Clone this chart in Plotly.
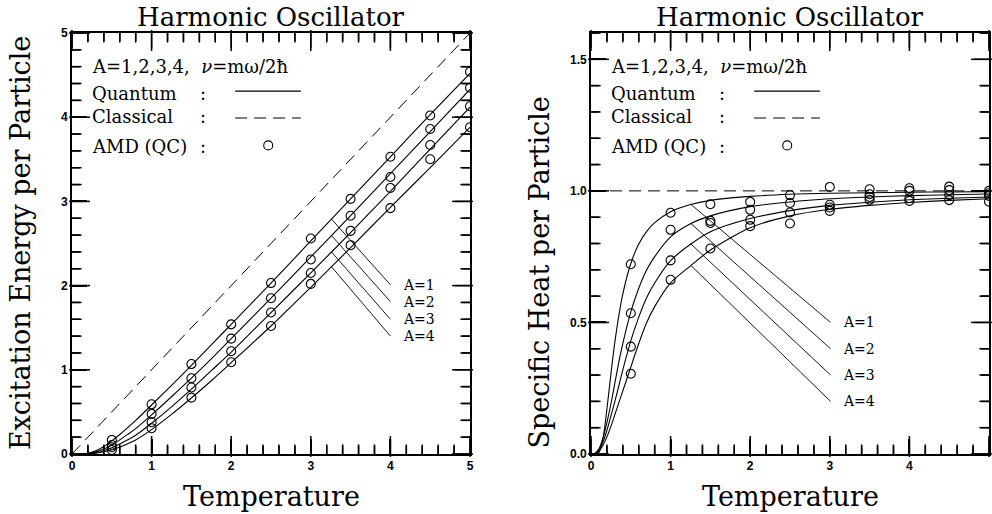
import numpy as np
import plotly.graph_objects as go

# ---------------- data ----------------
A_labels = ["A=1", "A=2", "A=3", "A=4"]

T_curve_E = [0, 0.1, 0.2, 0.3, 0.4, 0.5, 0.6, 0.7, 0.8, 1.0, 1.25, 1.5, 1.75, 2.0, 2.5, 3.0, 3.5, 4.0, 4.5, 5.0]
E_quantum_A1 = [0, 0.0, 0.007, 0.037, 0.089, 0.156, 0.232, 0.313, 0.399, 0.582, 0.816, 1.053, 1.297, 1.54, 2.03, 2.53, 3.03, 3.53, 4.03, 4.52]
E_quantum_A2 = [0, 0.0, 0.004, 0.022, 0.058, 0.108, 0.168, 0.233, 0.302, 0.465, 0.68, 0.90, 1.13, 1.37, 1.85, 2.34, 2.83, 3.33, 3.83, 4.33]
E_quantum_A3 = [0, 0.0, 0.002, 0.014, 0.038, 0.073, 0.118, 0.168, 0.223, 0.365, 0.56, 0.77, 0.99, 1.21, 1.68, 2.15, 2.63, 3.12, 3.62, 4.12]
E_quantum_A4 = [0, 0.0, 0.001, 0.009, 0.026, 0.05, 0.083, 0.122, 0.167, 0.29, 0.47, 0.665, 0.87, 1.085, 1.52, 1.98, 2.45, 2.93, 3.40, 3.88]
T_classical = [0, 5]
E_classical = [0, 5]

T_amd = [0.5, 1.0, 1.5, 2.0, 2.5, 3.0, 3.5, 4.0, 4.5, 5.0]
E_amd_A1 = [0.167, 0.59, 1.068, 1.54, 2.03, 2.56, 3.03, 3.53, 4.02, 4.54]
E_amd_A2 = [0.107, 0.476, 0.90, 1.37, 1.85, 2.31, 2.83, 3.29, 3.86, 4.35]
E_amd_A3 = [0.08, 0.377, 0.79, 1.22, 1.68, 2.15, 2.65, 3.16, 3.67, 4.13]
E_amd_A4 = [0.048, 0.306, 0.67, 1.09, 1.52, 2.02, 2.48, 2.92, 3.50, 3.88]

T_curve_C = [0, 0.05, 0.1, 0.15, 0.2, 0.25, 0.3, 0.35, 0.4, 0.5, 0.6, 0.7, 0.8, 1.0, 1.25, 1.5, 2.0, 2.5, 3.0, 3.5, 4.0, 4.5, 5.0]
C_quantum_A1 = [0, 0.0, 0.006, 0.057, 0.171, 0.304, 0.426, 0.527, 0.609, 0.724, 0.798, 0.846, 0.879, 0.921, 0.948, 0.964, 0.979, 0.987, 0.991, 0.993, 0.995, 0.996, 0.997]
C_quantum_A2 = [0, 0.003, 0.02, 0.06, 0.12, 0.19, 0.27, 0.35, 0.42, 0.54, 0.63, 0.70, 0.75, 0.825, 0.875, 0.905, 0.94, 0.958, 0.97, 0.977, 0.982, 0.985, 0.988]
C_quantum_A3 = [0, 0.002, 0.015, 0.045, 0.09, 0.145, 0.20, 0.26, 0.32, 0.43, 0.52, 0.595, 0.65, 0.735, 0.797, 0.845, 0.895, 0.925, 0.945, 0.957, 0.966, 0.972, 0.977]
C_quantum_A4 = [0, 0.0015, 0.011, 0.033, 0.065, 0.105, 0.15, 0.195, 0.24, 0.33, 0.42, 0.50, 0.56, 0.65, 0.715, 0.775, 0.86, 0.905, 0.93, 0.945, 0.956, 0.964, 0.97]
T_classical_C = [0, 5]
C_classical = [1, 1]

C_amd_A1 = [0.721, 0.917, 0.949, 0.958, 0.984, 1.015, 1.006, 1.01, 1.016, 1.0]
C_amd_A2 = [0.535, 0.852, 0.886, 0.928, 0.954, 0.947, 0.987, 1.0, 1.003, 0.991]
C_amd_A3 = [0.408, 0.736, 0.878, 0.890, 0.918, 0.937, 0.977, 0.972, 0.984, 0.981]
C_amd_A4 = [0.305, 0.662, 0.781, 0.866, 0.876, 0.924, 0.966, 0.962, 0.965, 0.959]

# tick values
T_major_ticks = [0, 1, 2, 3, 4, 5]
T_minor_ticks = [0.2, 0.4, 0.6, 0.8, 1.2, 1.4, 1.6, 1.8, 2.2, 2.4, 2.6, 2.8,
                 3.2, 3.4, 3.6, 3.8, 4.2, 4.4, 4.6, 4.8]
E_major_ticks = [0, 1, 2, 3, 4, 5]
E_minor_ticks = T_minor_ticks
C_major_ticks = [0.0, 0.5, 1.0, 1.5]
C_minor_ticks = [0.1, 0.2, 0.3, 0.4, 0.6, 0.7, 0.8, 0.9, 1.1, 1.2, 1.3, 1.4, 1.6]

E_label_T_start = 3.26
E_label_T_end = 4.0
E_label_y_end = [2.01, 1.81, 1.60, 1.40]
E_label_T_text = 4.13
C_label_T_start = 1.256
C_label_T_end = 3.01
C_label_y_end = [0.50, 0.40, 0.30, 0.20]
C_label_T_text = 3.14

E_quantum = [E_quantum_A1, E_quantum_A2, E_quantum_A3, E_quantum_A4]
E_amd = [E_amd_A1, E_amd_A2, E_amd_A3, E_amd_A4]
C_quantum = [C_quantum_A1, C_quantum_A2, C_quantum_A3, C_quantum_A4]
C_amd = [C_amd_A1, C_amd_A2, C_amd_A3, C_amd_A4]

# ---------------- figure ----------------
SERIF = "DejaVu Serif"
BLACK = "#000000"
W, H = 992, 514
ytop, ybot = 33, 454
PLOT_W, PLOT_H = 398, ybot - ytop
ydom = [1 - ybot / H, 1 - ytop / H]
xdom1 = [72 / W, 470 / W]
xdom2 = [591 / W, 989 / W]
XR = [0, 5]
YR1 = [0, 5]
YR2 = [0, 1.6]

fig = go.Figure()

def add_panel(xr, yr, Tc, curves, Tcl, cl, amd, t_start, t_end, y_end, t_text):
    fig.add_trace(go.Scatter(x=Tcl, y=cl, mode="lines", xaxis=xr, yaxis=yr,
                             line=dict(color=BLACK, width=1, dash="12px,7px"), showlegend=False))
    for i in range(4):
        fig.add_trace(go.Scatter(x=Tc, y=curves[i], mode="lines", xaxis=xr, yaxis=yr,
                                 line=dict(color=BLACK, width=1.1, shape="spline", smoothing=0.8),
                                 showlegend=False))
        fig.add_trace(go.Scatter(x=T_amd, y=amd[i], mode="markers", xaxis=xr, yaxis=yr,
                                 marker=dict(symbol="circle-open", size=9, color=BLACK,
                                             line=dict(width=1.1, color=BLACK)),
                                 showlegend=False))
        y0 = float(np.interp(t_start, Tc, curves[i]))
        fig.add_trace(go.Scatter(x=[t_start, t_end], y=[y0, y_end[i]], mode="lines",
                                 xaxis=xr, yaxis=yr, line=dict(color=BLACK, width=0.9),
                                 showlegend=False))
        fig.add_annotation(x=t_text, y=y_end[i], xref=xr, yref=yr, text=A_labels[i],
                           showarrow=False, xanchor="left", yanchor="middle",
                           font=dict(family=SERIF, size=14, color=BLACK))

add_panel("x", "y", T_curve_E, E_quantum, T_classical, E_classical, E_amd,
          E_label_T_start, E_label_T_end, E_label_y_end, E_label_T_text)
add_panel("x2", "y2", T_curve_C, C_quantum, T_classical_C, C_classical, C_amd,
          C_label_T_start, C_label_T_end, C_label_y_end, C_label_T_text)

# tick marks on all four sides (major 15 px, minor 8 px), drawn as line segments
# and, additionally, as line-shaped markers
def tick_trace(xr, yr, yrange, xvals_maj, xvals_min, yvals_maj, yvals_min):
    xs, ys = [], []
    ux = (XR[1] - XR[0]) / PLOT_W
    uy = (yrange[1] - yrange[0]) / PLOT_H
    for vals, L in [(xvals_maj, 15), (xvals_min, 8)]:
        for v in vals:
            xs += [v, v, None, v, v, None]
            ys += [yrange[0], yrange[0] + L * uy, None, yrange[1], yrange[1] - L * uy, None]
        mx = list(vals) + list(vals)
        my = [yrange[0] + L / 2 * uy] * len(vals) + [yrange[1] - L / 2 * uy] * len(vals)
        fig.add_trace(go.Scatter(x=mx, y=my, mode="markers", xaxis=xr, yaxis=yr,
                                 marker=dict(symbol="line-ns", size=L, color=BLACK,
                                             line=dict(width=1.5, color=BLACK)),
                                 cliponaxis=False, showlegend=False, hoverinfo="skip"))
    for vals, L in [(yvals_maj, 15), (yvals_min, 8)]:
        for v in vals:
            xs += [XR[0], XR[0] + L * ux, None, XR[1], XR[1] - L * ux, None]
            ys += [v, v, None, v, v, None]
        mx = [XR[0] + L / 2 * ux] * len(vals) + [XR[1] - L / 2 * ux] * len(vals)
        my = list(vals) + list(vals)
        fig.add_trace(go.Scatter(x=mx, y=my, mode="markers", xaxis=xr, yaxis=yr,
                                 marker=dict(symbol="line-ew", size=L, color=BLACK,
                                             line=dict(width=1.5, color=BLACK)),
                                 cliponaxis=False, showlegend=False, hoverinfo="skip"))
    fig.add_trace(go.Scatter(x=xs, y=ys, mode="lines", xaxis=xr, yaxis=yr,
                             line=dict(color=BLACK, width=1.5), connectgaps=False,
                             showlegend=False, hoverinfo="skip"))

tick_trace("x", "y", YR1, T_major_ticks, T_minor_ticks, E_major_ticks, E_minor_ticks)
tick_trace("x2", "y2", YR2, T_major_ticks, T_minor_ticks, C_major_ticks, C_minor_ticks)

tickfont = dict(family="Liberation Sans", size=12, color=BLACK, weight="bold")

def axis(dom, rng, vals, anchor, fmt=None):
    d = dict(domain=dom, range=rng, tickmode="array", tickvals=vals, anchor=anchor,
             showline=True, linecolor=BLACK, linewidth=1.6, mirror=True,
             ticks="inside", ticklen=15, tickwidth=1.5, tickcolor=BLACK,
             showgrid=False, zeroline=False, tickfont=tickfont)
    if fmt:
        d["tickformat"] = fmt
    return d

fig.update_layout(
    width=W, height=H, margin=dict(l=0, r=0, t=0, b=0, autoexpand=False),
    paper_bgcolor="white", plot_bgcolor="white", showlegend=False,
    xaxis=axis(xdom1, XR, T_major_ticks, "y"),
    yaxis=axis(ydom, YR1, E_major_ticks, "x"),
    xaxis2=axis(xdom2, XR, T_major_ticks, "y2"),
    yaxis2=axis(ydom, YR2, C_major_ticks, "x2", ".1f"),
)

for xd, ytitle, ycen in [(xdom1, "Excitation Energy per Particle", 0.527),
                         (xdom2, "Specific Heat per Particle", 0.47)]:
    cx = (xd[0] + xd[1]) / 2
    fig.add_annotation(x=cx, y=1 - 17 / H, xref="paper", yref="paper", text="Harmonic Oscillator",
                       showarrow=False, xanchor="center", yanchor="middle",
                       font=dict(family=SERIF, size=26, color=BLACK))
    fig.add_annotation(x=cx, y=1 - 496 / H, xref="paper", yref="paper", text="Temperature",
                       showarrow=False, xanchor="center", yanchor="middle",
                       font=dict(family=SERIF, size=27, color=BLACK))
    fig.add_annotation(x=xd[0] - 52 / W, y=ycen, xref="paper", yref="paper", text=ytitle,
                       showarrow=False, textangle=-90, xanchor="center", yanchor="middle",
                       font=dict(family=SERIF, size=27, color=BLACK))

legend_rows = [("A=1,2,3,4,  <i>ν</i>=mω/2ħ", 0.92), ("Quantum", 0.857),
               ("Classical", 0.801), ("AMD (QC)", 0.73)]
for xr, yr in [("x", "y"), ("x2", "y2")]:
    for k, (txt, yy) in enumerate(legend_rows):
        fig.add_annotation(x=0.045, y=yy, xref=f"{xr} domain", yref=f"{yr} domain", text=txt,
                           showarrow=False, xanchor="left", yanchor="middle",
                           font=dict(family=SERIF, size=18, color=BLACK))
        if k > 0:
            fig.add_annotation(x=0.33, y=yy, xref=f"{xr} domain", yref=f"{yr} domain", text=":",
                               showarrow=False, xanchor="center", yanchor="middle",
                               font=dict(family=SERIF, size=18, color=BLACK))
    fig.add_shape(type="line", xref=f"{xr} domain", yref=f"{yr} domain",
                  x0=0.41, x1=0.575, y0=0.862, y1=0.862, line=dict(color=BLACK, width=1.1))
    fig.add_shape(type="line", xref=f"{xr} domain", yref=f"{yr} domain",
                  x0=0.41, x1=0.575, y0=0.798, y1=0.798,
                  line=dict(color=BLACK, width=1.1, dash="12px,7px"))
    fig.add_shape(type="circle", xref=f"{xr} domain", yref=f"{yr} domain",
                  xsizemode="pixel", ysizemode="pixel", xanchor=0.493, yanchor=0.733,
                  x0=-4.5, x1=4.5, y0=-4.5, y1=4.5, line=dict(color=BLACK, width=1.1))

fig.write_html("out.html", config={"displayModeBar": False},
               post_script="document.body.style.margin='0';document.body.style.padding='0';")
